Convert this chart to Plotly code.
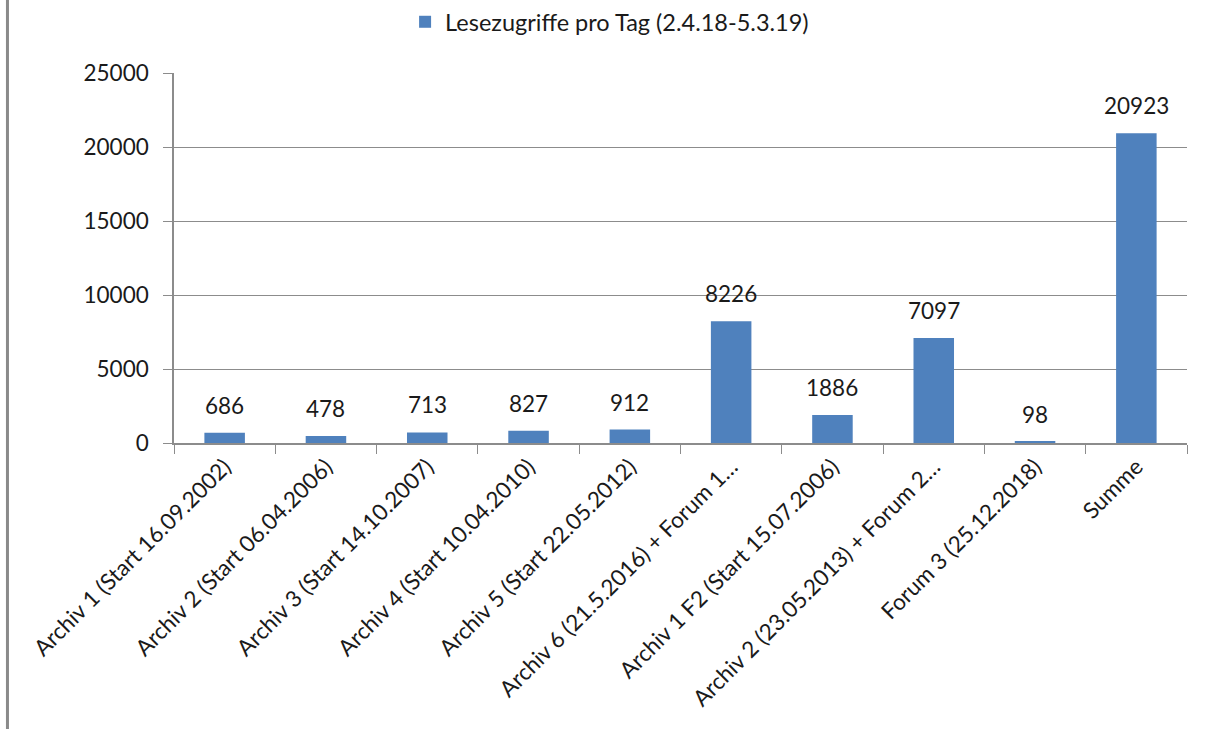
import plotly.graph_objects as go

# Lesezugriffe pro Tag je Archiv/Forum
categories = [
    "Archiv 1 (Start 16.09.2002)",
    "Archiv 2 (Start 06.04.2006)",
    "Archiv 3 (Start 14.10.2007)",
    "Archiv 4 (Start 10.04.2010)",
    "Archiv 5 (Start 22.05.2012)",
    "Archiv 6 (21.5.2016) + Forum 1…",
    "Archiv 1 F2 (Start 15.07.2006)",
    "Archiv 2 (23.05.2013) + Forum 2…",
    "Forum 3 (25.12.2018)",
    "Summe",
]
values = [686, 478, 713, 827, 912, 8226, 1886, 7097, 98, 20923]
series_name = "Lesezugriffe pro Tag (2.4.18-5.3.19)"
y_ticks = [0, 5000, 10000, 15000, 20000, 25000]

FONT = "Lato, Carlito, Calibri, sans-serif"
TEXT = "#1a1a1a"
GRID = "#8c8c8c"
BAR = "#4f81bd"
FS = 22.5

fig = go.Figure(
    go.Bar(
        x=categories,
        y=values,
        name=series_name,
        marker=dict(color=BAR, line=dict(width=0)),
        showlegend=True,
    )
)

# Wertebeschriftung über den Balken
for cat, val in zip(categories, values):
    fig.add_annotation(
        x=cat,
        y=val,
        text=str(val),
        showarrow=False,
        yanchor="bottom",
        yshift=12,
        font=dict(family=FONT, size=FS, color=TEXT),
    )

fig.update_layout(
    width=1212,
    height=729,
    margin=dict(l=174, r=25, t=73, b=286),
    paper_bgcolor="white",
    plot_bgcolor="white",
    bargap=0.6,
    font=dict(family=FONT, size=FS, color=TEXT),
    legend=dict(
        orientation="h",
        x=0.43,
        xanchor="center",
        y=1.0,
        yref="container",
        yanchor="top",
        font=dict(family=FONT, size=23.5, color=TEXT),
        itemwidth=30,
    ),
)

fig.update_xaxes(
    type="category",
    tickangle=-45,
    ticks="outside",
    tickson="boundaries",
    ticklen=9,
    tickcolor=GRID,
    showline=True,
    linecolor=GRID,
    linewidth=1.5,
    showgrid=False,
    tickfont=dict(family=FONT, size=FS, color=TEXT),
)

fig.update_yaxes(
    range=[0, 25000],
    tickvals=y_ticks,
    ticktext=[str(v) for v in y_ticks],
    ticks="outside",
    ticklen=9,
    tickcolor=GRID,
    showline=True,
    linecolor=GRID,
    linewidth=1.5,
    showgrid=True,
    gridcolor=GRID,
    gridwidth=1,
    zeroline=False,
    tickfont=dict(family=FONT, size=FS, color=TEXT),
    ticklabelstandoff=10,
)

# Rahmenlinie am linken Rand
fig.add_shape(
    type="line",
    xref="paper",
    yref="paper",
    x0=-0.1644,
    x1=-0.1644,
    y0=-0.8,
    y1=1.2,
    line=dict(color="#8a8a8a", width=3),
)

fig.write_html("out.html")
